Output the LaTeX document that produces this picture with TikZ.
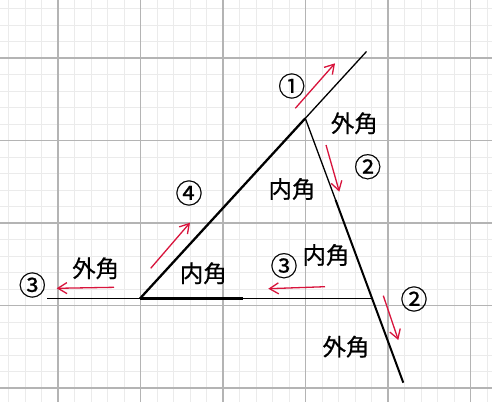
\documentclass[tikz,border=0pt]{standalone}
\usepackage{fontspec}
\setmainfont{Noto Sans CJK JP}[FakeBold=0.6]
\usetikzlibrary{arrows.meta}
\definecolor{gridminor}{HTML}{EBEBEB}
\definecolor{gridmajor}{HTML}{B4B4B4}
\definecolor{arrowred}{HTML}{D8143C}
\begin{document}
\begin{tikzpicture}[x=1pt,y=-1pt,
  lbl/.style={inner sep=0pt,font=\fontsize{23.5}{23.5}\selectfont},
  num/.style={inner sep=0pt,font=\fontsize{27}{27}\selectfont},
  redarrow/.style={draw=arrowred,line width=1.3pt,-{Straight Barb[length=9pt,width=11pt,line width=1.3pt]}},
  thinline/.style={line width=1.3pt},
  thickline/.style={line width=2.3pt}]
\useasboundingbox (0,0) rectangle (492,402);
\fill[white] (0,0) rectangle (492,402);
% grid
\foreach \i in {0,...,29} {\draw[gridminor,line width=1pt] ({8.5+16.5*\i},0) -- ({8.5+16.5*\i},402);}
\foreach \i in {0,...,23} {\draw[gridminor,line width=1pt] (0,{8.5+16.5*\i}) -- (492,{8.5+16.5*\i});}
\foreach \x in {58,140.5,223,305.5,388,470.5} {\draw[gridmajor,line width=1.2pt] (\x,0) -- (\x,402);}
\foreach \y in {58,140.5,223,305.5,388} {\draw[gridmajor,line width=1.2pt] (0,\y) -- (492,\y);}
% triangle
\coordinate (A) at (140,298.5);
\coordinate (B) at (305.3,118.3);
\coordinate (C) at (371.8,298.5);
\coordinate (T) at (366.5,51.5);
\coordinate (D) at (403.3,382.7);
\coordinate (M) at (335.6,200);
\coordinate (L) at (47,298.5);
\coordinate (H1) at (243,298.5);
\coordinate (H2) at (263,298.5);
\draw[thinline] (L) -- (C);
\draw[thickline] (A) -- (H1);
\draw[line width=1.8pt] (H1) -- (H2);
\draw[thickline] (A) -- (B);
\draw[thinline] (B) -- (T);
\draw[thinline] (B) -- (M);
\draw[line width=2pt] (M) -- (D);
% arrows
\coordinate (a1s) at (295.3,108.3); \coordinate (a1e) at (335,63.3);
\coordinate (a2s) at (326,145);     \coordinate (a2e) at (339.3,191.7);
\coordinate (a3s) at (114,287.3);   \coordinate (a3e) at (56.7,288.3);
\coordinate (a4s) at (150.7,268.3); \coordinate (a4e) at (190,222.7);
\coordinate (a5s) at (325,286.7);   \coordinate (a5e) at (268.3,288.7);
\coordinate (a6s) at (383.3,295.7); \coordinate (a6e) at (398.3,340);
\draw[redarrow] (a1s) -- (a1e);
\draw[redarrow] (a2s) -- (a2e);
\draw[redarrow] (a3s) -- (a3e);
\draw[redarrow] (a4s) -- (a4e);
\draw[redarrow] (a5s) -- (a5e);
\draw[redarrow] (a6s) -- (a6e);
% labels
\node[num] (n1) at (291.7,86) {①};
\node[lbl] (g1) at (354.3,123.3) {外角};
\node[num] (n2a) at (367.7,166.7) {②};
\node[lbl] (i1) at (292,189) {内角};
\node[num] (n4) at (189,193) {④};
\node[lbl] (g2) at (95.7,268.3) {外角};
\node[num] (n3a) at (32.3,285) {③};
\node[lbl] (i2) at (203.3,273.3) {内角};
\node[num] (n3b) at (284,265.7) {③};
\node[lbl] (i3) at (326,255) {内角};
\node[num] (n2b) at (414,299) {②};
\node[lbl] (g3) at (346,346.7) {外角};
\end{tikzpicture}
\end{document}
